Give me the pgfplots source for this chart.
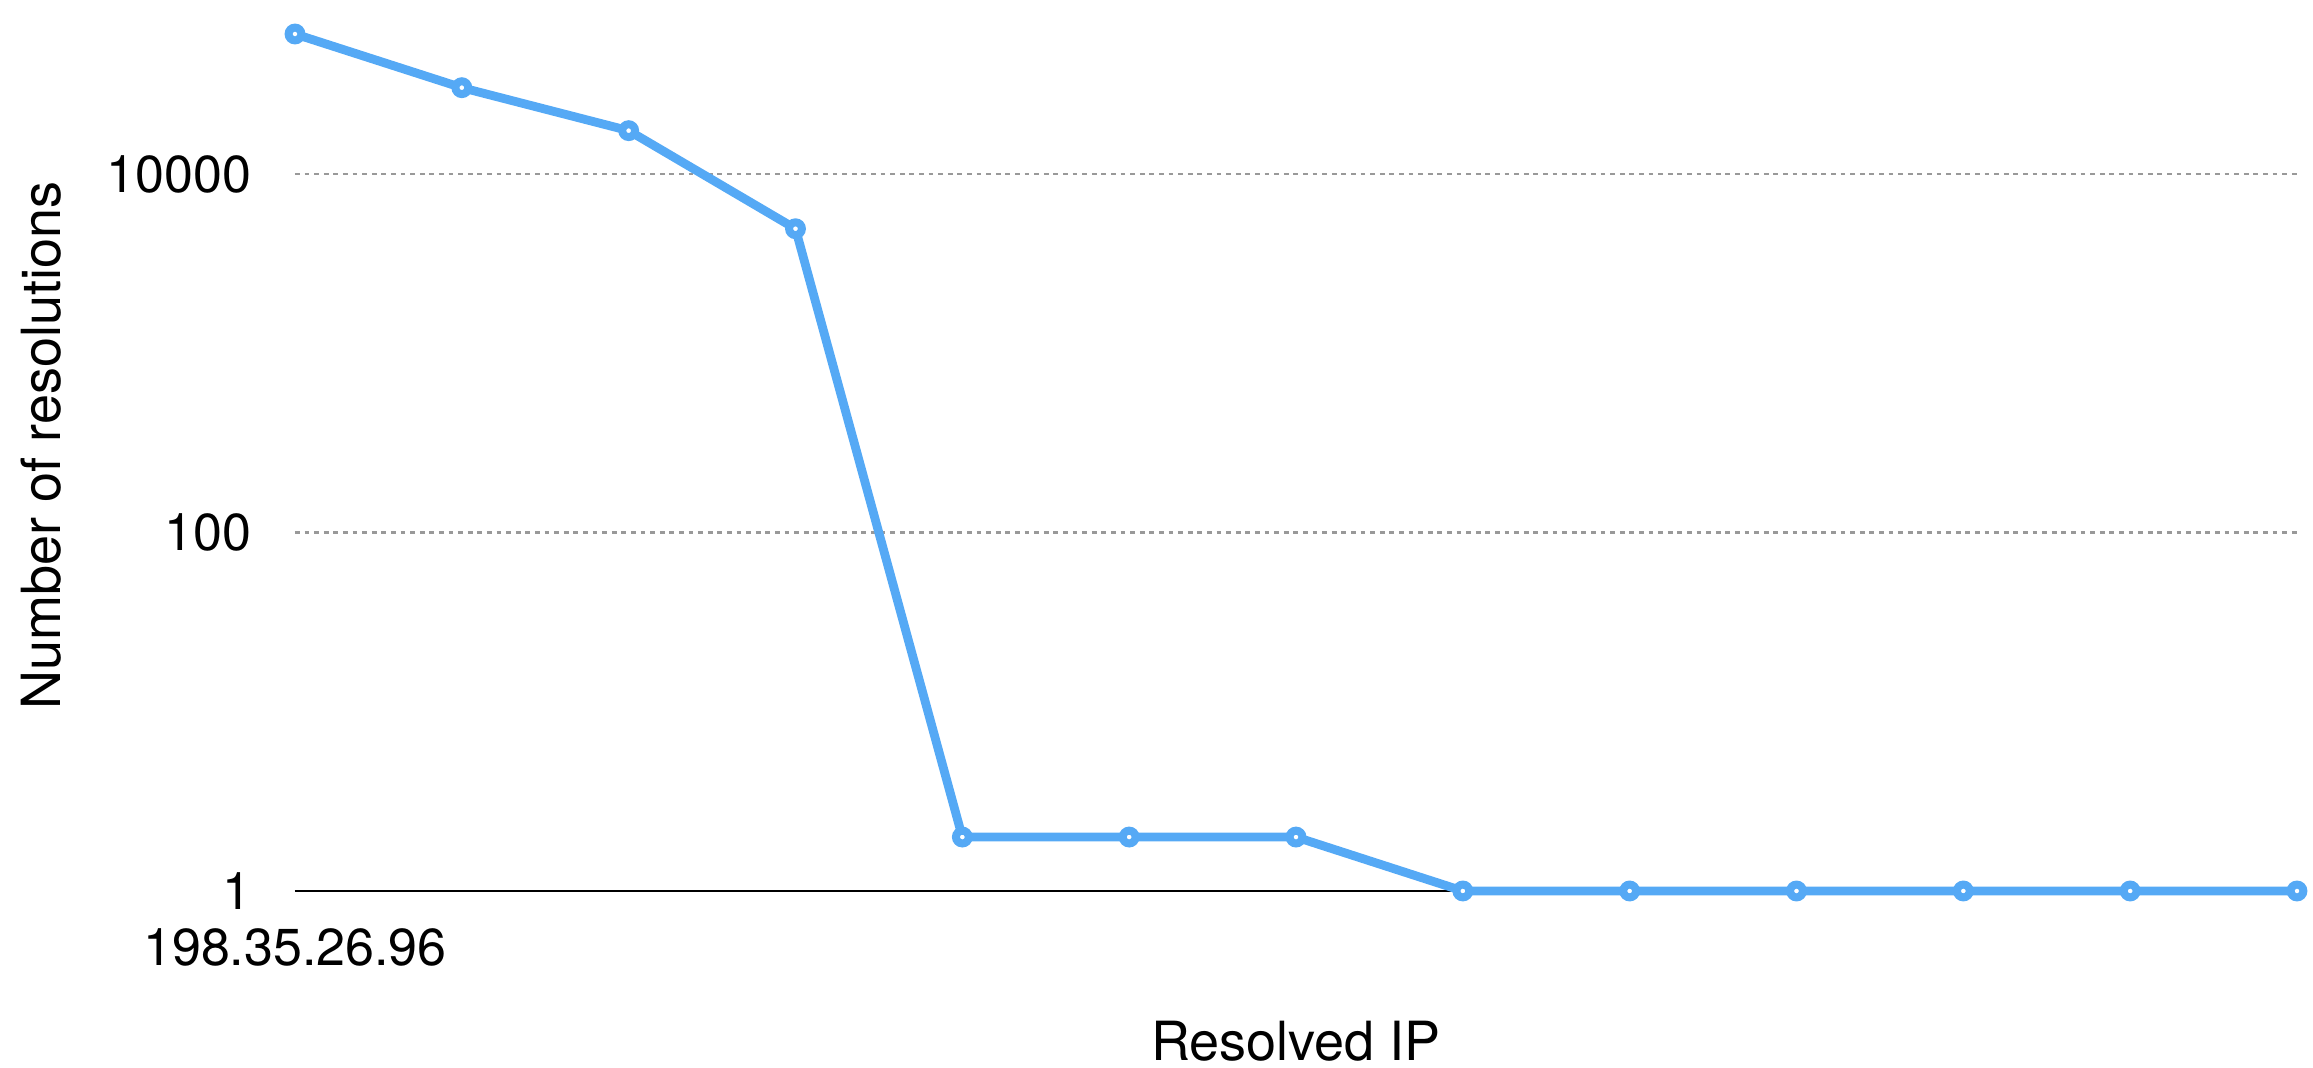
\documentclass[border=0pt]{standalone}
\usepackage{pgfplots}
\pgfplotsset{compat=1.18}
\usepackage{fontspec}
\setmainfont{TeX Gyre Heros}
\definecolor{lineblue}{HTML}{55A9F5}
\definecolor{gridgray}{HTML}{999999}
\begin{document}
\begin{tikzpicture}[x=1pt,y=1pt]
\begin{axis}[
  at={(73.75pt,44.25pt)}, anchor=south west,
  width=500.5pt, height=222.75pt, scale only axis,
  ymode=log, log basis y=10,
  xmin=0, xmax=12, ymin=1, ymax=93500,
  axis x line=bottom, axis y line=left,
  x axis line style={black, line width=0.6pt, -},
  y axis line style={draw=none},
  xtick={0}, xticklabels={198.35.26.96},
  ytick={1,100,10000}, yticklabels={1,100,10000},
  major tick length=0pt, minor tick num=0,
  ymajorgrids, grid style={gridgray, line width=0.6pt, dash pattern=on 1.2pt off 1.2pt},
  yticklabel style={anchor=east, inner sep=0pt, xshift=-10.8pt, font=\fontsize{13}{15}\selectfont},
  xticklabel style={anchor=north, inner sep=0pt, yshift=-9.3pt, font=\fontsize{13}{15}\selectfont},
  xlabel={Resolved IP}, ylabel={Number of resolutions},
  xlabel style={at={(axis description cs:0.5,0)}, anchor=center, inner sep=0pt, yshift=-37.5pt, font=\fontsize{13.5}{16}\selectfont},
  ylabel style={at={(axis description cs:-0.1269,0.5)}, anchor=center, inner sep=0pt, font=\fontsize{13.5}{16}\selectfont},
  clip=false,
]
\addplot[lineblue, line width=2.2pt, mark=*, mark size=1.6pt,
  mark options={draw=lineblue, fill=white, line width=2pt}]
  coordinates {(0,60400) (1,30300) (2,17450) (3,4950) (4,2) (5,2) (6,2)
  (7,1) (8,1) (9,1) (10,1) (11,1) (12,1)};
\end{axis}
\path (0,0) rectangle (578.25pt,267pt);
\end{tikzpicture}
\end{document}
